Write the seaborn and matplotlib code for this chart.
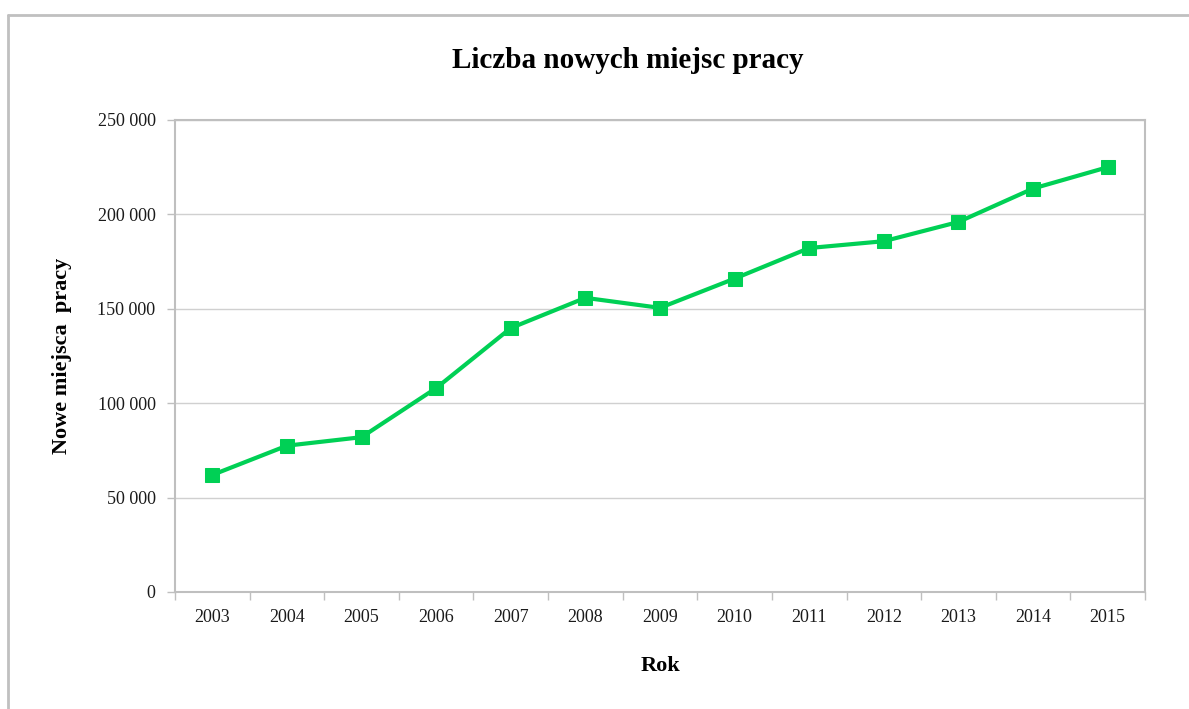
import matplotlib
matplotlib.use("Agg")
import matplotlib.pyplot as plt
import seaborn as sns
import pandas as pd
from matplotlib.lines import Line2D
from matplotlib.ticker import FuncFormatter, FixedLocator

years = ["2003", "2004", "2005", "2006", "2007", "2008", "2009",
         "2010", "2011", "2012", "2013", "2014", "2015"]
new_jobs = [62000, 77500, 82000, 108000, 139800, 155800, 150500,
            166000, 182200, 185800, 196000, 213700, 225000]
y_ticks = [0, 50000, 100000, 150000, 200000, 250000]

sns.set_theme(style="white")
plt.rcParams['font.family'] = ['Liberation Serif', 'DejaVu Serif']
plt.rcParams['text.color'] = '#000000'
plt.rcParams['axes.labelcolor'] = '#000000'

df = pd.DataFrame({"Rok": years, "Nowe": new_jobs})
df["x"] = range(len(years))

fig = plt.figure(figsize=(11.89, 7.09), dpi=100)
ax = fig.add_axes([175/1189, 1-592/709, (1145-175)/1189, (592-120)/709])

sns.lineplot(data=df, x="x", y="Nowe", ax=ax, color="#00d055", linewidth=3,
             marker="s", markersize=10, markeredgecolor="#00d055", zorder=3)

ax.set_xlim(-0.5, len(years) - 0.5)
ax.set_ylim(0, 250000)
ax.set_yticks(y_ticks)
ax.yaxis.set_major_formatter(FuncFormatter(lambda v, p: f"{int(v):,}".replace(",", " ")))
ax.set_xticks(range(len(years)))
ax.set_xticklabels(years)
ax.xaxis.set_minor_locator(FixedLocator([i - 0.5 for i in range(len(years) + 1)]))
ax.tick_params(axis="x", which="major", length=0, pad=12, labelsize=13, labelcolor="#1a1a1a")
ax.tick_params(axis="x", which="minor", length=6, width=1, color="#bfbfbf", bottom=True)
ax.tick_params(axis="y", which="major", length=6, width=1, color="#bfbfbf", left=True,
               labelsize=13, pad=8, labelcolor="#1a1a1a")
ax.grid(axis="y", color="#d0d0d0", linewidth=1)
ax.set_axisbelow(True)
for s in ax.spines.values():
    s.set_visible(True)
    s.set_color("#bfbfbf")
    s.set_linewidth(1.5)

ax.set_xlabel("Rok", fontsize=16, fontweight="bold", labelpad=22)
ax.set_ylabel("Nowe miejsca  pracy", fontsize=16, fontweight="bold", labelpad=18)
fig.text(628/1189, 1-60/709, "Liczba nowych miejsc pracy", ha="center", va="center",
         fontsize=21, fontweight="bold", color="#000000")

fig.add_artist(Line2D([8/1189, 8/1189], [0, 1-15/709], transform=fig.transFigure,
                      color="#c0c0c0", linewidth=2))
fig.add_artist(Line2D([8/1189, 1], [1-15/709, 1-15/709], transform=fig.transFigure,
                      color="#c0c0c0", linewidth=2))

fig.savefig("out.png", dpi=100, facecolor="white")
